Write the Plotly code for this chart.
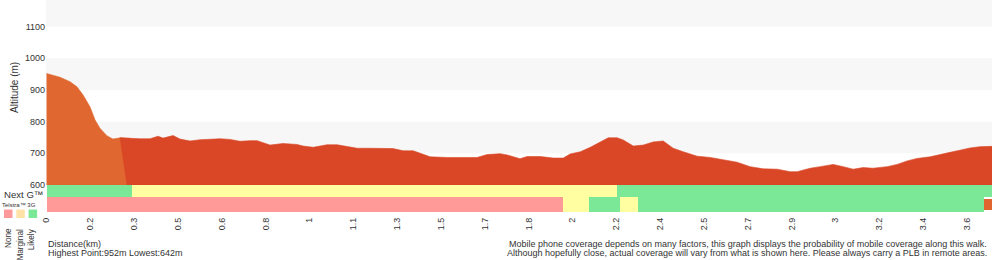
import plotly.graph_objects as go

# ---------------- data ----------------
dist_km = [0, 0.021, 0.053, 0.092, 0.119, 0.143, 0.170, 0.190, 0.209, 0.237, 0.260, 0.288,
           0.327, 0.366, 0.405, 0.436, 0.456, 0.495, 0.522, 0.561, 0.601, 0.679, 0.718,
           0.757, 0.796, 0.824, 0.874, 0.925, 0.980, 1.003, 1.043, 1.097, 1.137, 1.176,
           1.215, 1.265, 1.316, 1.355, 1.395, 1.434, 1.473, 1.500, 1.567, 1.629, 1.684,
           1.723, 1.774, 1.802, 1.852, 1.880, 1.931, 1.982, 2.021, 2.048, 2.088, 2.127,
           2.166, 2.197, 2.216, 2.232, 2.256, 2.295, 2.334, 2.373, 2.412, 2.451, 2.490,
           2.545, 2.596, 2.647, 2.701, 2.752, 2.803, 2.858, 2.909, 2.936, 2.987, 3.026,
           3.077, 3.116, 3.155, 3.194, 3.233, 3.288, 3.327, 3.366, 3.405, 3.456, 3.495,
           3.534, 3.573, 3.612, 3.651, 3.698]
elev_m = [952, 948, 940, 926, 910, 884, 847, 805, 779, 755, 745, 749,
          747, 746, 746, 754, 748, 756, 745, 739, 743, 746, 744,
          738, 740, 740, 726, 731, 728, 723, 719, 727, 727, 721,
          716, 716, 716, 715, 708, 708, 697, 689, 687, 687, 687,
          696, 699, 695, 683, 690, 690, 685, 685, 698, 705, 719,
          736, 749, 749, 749, 742, 723, 726, 736, 739, 716, 705,
          691, 687, 679, 672, 658, 651, 650, 642, 642, 653, 658,
          665, 658, 650, 655, 653, 658, 665, 676, 684, 689, 695,
          703, 710, 717, 721, 722]

# gradient segments: first (steep) segment ends at top 0.288 km / base 0.315 km
seg_split_top = 0.288
seg_split_base = 0.315

# coverage (start km, end km, status)
nextg_start = [0.0, 0.3345, 2.232]
nextg_end = [0.3345, 2.232, 3.698]
nextg_status = ["Likely", "Marginal", "Likely"]

g3_start = [0.0, 2.021, 2.122, 2.244, 2.314, 3.666]
g3_end = [2.021, 2.122, 2.244, 2.314, 3.666, 3.698]
g3_status = ["None", "Marginal", "Likely", "Marginal", "Likely", "Unknown"]

tick_labels = ["0", "0.2", "0.3", "0.5", "0.6", "0.8", "1", "1.1", "1.3", "1.5", "1.7",
               "1.8", "2", "2.2", "2.4", "2.5", "2.7", "2.9", "3", "3.2", "3.4", "3.6"]
tick_last_km = 3.6
y_ticks = [600, 700, 800, 900, 1000, 1100]
band_ranges = [(700, 800), (900, 1000), (1100, 1200)]

disclaimer = ["Mobile phone coverage depends on many factors, this graph displays the probability of mobile coverage along this walk.",
              "Although hopefully close, actual coverage will vary from what is shown here. Please always carry a PLB in remote areas."]

# ---------------- styling ----------------
W, H = 1000, 260
ML, MR = 46, 8
PW = W - ML - MR
status_color = {"None": "#ff9a98", "Marginal": "#ffffa2", "Likely": "#7ae896", "Unknown": "#e0652f"}
legend_color = {"None": "#ff9a9a", "Marginal": "#ffe2a6", "Likely": "#7ae896"}
ORANGE = "#e0672f"
RED = "#d94726"
TXT = "#333333"
FONT = "Liberation Sans, Arial, sans-serif"


def px(x):
    return (x - ML) / PW


def py(y):
    return (H - y) / H


x_end = dist_km[-1]

fig = go.Figure()

# first segment (orange)
first_x = [d for d in dist_km if d <= 0.33]
first_y = elev_m[:len(first_x)]
fig.add_trace(go.Scatter(
    x=first_x + [first_x[-1], 0], y=first_y + [600, 600], fill="toself",
    fillcolor=ORANGE, line=dict(width=0.6, color=ORANGE), mode="lines",
    hoverinfo="skip", showlegend=False, xaxis="x", yaxis="y"))

# remaining segment (red)
rest = [(d, e) for d, e in zip(dist_km, elev_m) if d >= seg_split_top]
rx = [d for d, _ in rest]
ry = [e for _, e in rest]
fig.add_trace(go.Scatter(
    x=rx + [x_end, seg_split_base, rx[0]], y=ry + [600, 600, ry[0]], fill="toself",
    fillcolor=RED, line=dict(width=0.6, color=RED), mode="lines",
    hoverinfo="skip", showlegend=False, xaxis="x", yaxis="y"))


# coverage bars (y2 in pixel-like units: 0 = bottom of band area, 27 = top)
def add_band(starts, ends, statuses, center, width, name):
    fig.add_trace(go.Bar(
        orientation="h",
        base=starts,
        x=[e - s for s, e in zip(starts, ends)],
        y=[center if st != "Unknown" else 7.5 for st in statuses],
        width=[width if st != "Unknown" else 11 for st in statuses],
        marker=dict(color=[status_color[s] for s in statuses], line=dict(width=0)),
        hoverinfo="skip", showlegend=False, name=name, xaxis="x", yaxis="y2"))


add_band(nextg_start, nextg_end, nextg_status, 21.15, 11.7, "Next G")
add_band(g3_start, g3_end, g3_status, 7.5, 14.4, "3G")

shapes = []
for lo, hi in band_ranges:
    shapes.append(dict(type="rect", xref="paper", yref="y", x0=0, x1=1, y0=lo, y1=hi,
                       fillcolor="#f7f7f7", line=dict(width=0), layer="below"))
# legend squares
for i, k in enumerate(["None", "Marginal", "Likely"]):
    x0 = 4 + i * 12.3
    shapes.append(dict(type="rect", xref="paper", yref="paper",
                       x0=px(x0), x1=px(x0 + 8.5), y0=py(218), y1=py(209.5),
                       fillcolor=legend_color[k], line=dict(width=0)))

ann = []
ann.append(dict(text="Altitude (m)", x=px(14), y=py(88), xref="paper", yref="paper",
                textangle=-90, showarrow=False, font=dict(size=10, color=TXT),
                xanchor="center", yanchor="middle"))
ann.append(dict(text="Next G™", x=px(45), y=py(194.5), xref="paper", yref="paper",
                showarrow=False, font=dict(size=9.6, color=TXT), xanchor="right", yanchor="middle"))
ann.append(dict(text="Telstra™ 3G", x=px(18.5), y=py(204.5), xref="paper", yref="paper",
                showarrow=False, font=dict(size=6, color=TXT), xanchor="center", yanchor="middle"))
for i, k in enumerate(["None", "Marginal", "Likely"]):
    ann.append(dict(text=k, x=px(8.5 + i * 11.6), y=py(226.5), xref="paper", yref="paper",
                    textangle=-90, showarrow=False, font=dict(size=8.2, color=TXT),
                    xanchor="center", yanchor="top"))
ann.append(dict(text="Distance(km)", x=px(46), y=py(243.5), xref="paper", yref="paper",
                showarrow=False, font=dict(size=9, color=TXT), xanchor="left", yanchor="middle"))
ann.append(dict(text="Highest Point:%dm Lowest:%dm" % (max(elev_m), min(elev_m)),
                x=px(46), y=py(252.5), xref="paper", yref="paper",
                showarrow=False, font=dict(size=9, color=TXT), xanchor="left", yanchor="middle"))
for i, line in enumerate(disclaimer):
    ann.append(dict(text=line, x=px(989), y=py(244 + 8.7 * i), xref="paper", yref="paper",
                    showarrow=False, font=dict(size=9, color=TXT), xanchor="right", yanchor="middle"))

n = len(tick_labels)
tickvals = [i * tick_last_km / (n - 1) for i in range(n)]

fig.update_layout(
    width=W, height=H, margin=dict(l=ML, r=MR, t=0, b=0, pad=0),
    paper_bgcolor="white", plot_bgcolor="white",
    font=dict(family=FONT, color=TXT),
    barmode="overlay", bargap=0,
    shapes=shapes, annotations=ann,
    xaxis=dict(range=[-0.002, x_end], anchor="y2", tickvals=tickvals, ticktext=tick_labels,
               tickangle=-90, tickfont=dict(size=9, color=TXT), ticks="", showgrid=False,
               ticklabelstandoff=3,
               zeroline=False, showline=False, automargin=False, fixedrange=True),
    yaxis=dict(domain=[py(185), 1], range=[600, 1184], tickvals=y_ticks, ticks="",
               tickfont=dict(size=9, color=TXT), showgrid=False, zeroline=False,
               showline=False, automargin=False, fixedrange=True),
    yaxis2=dict(domain=[py(212), py(185)], range=[0, 27], showticklabels=False, ticks="",
                showgrid=False, zeroline=False, showline=False, automargin=False, fixedrange=True),
    showlegend=False,
)

fig.write_html("out.html")
